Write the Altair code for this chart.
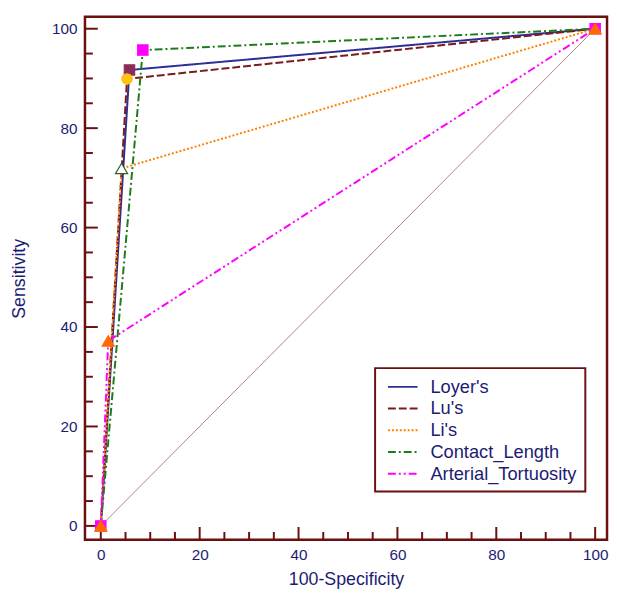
import altair as alt
import pandas as pd

# ---- data ----
series_names = ["Loyer's", "Lu's", "Li's", "Contact_Length", "Arterial_Tortuosity"]
loyer_x = [0, 5.8, 100]
loyer_y = [0, 91.7, 100]
lu_x = [0, 5.3, 100]
lu_y = [0, 89.9, 100]
li_x = [0, 4.2, 100]
li_y = [0, 71.9, 100]
contact_x = [0, 8.5, 100]
contact_y = [0, 95.7, 100]
arterial_x = [0, 1.5, 100]
arterial_y = [0, 37.2, 100]
diag_x = [0, 100]
diag_y = [0, 100]

x_major = [0, 20, 40, 60, 80, 100]
x_minor = [5, 10, 15, 25, 30, 35, 45, 50, 55, 65, 70, 75, 85, 90, 95]
y_major = [0, 20, 40, 60, 80, 100]
y_minor = [5, 10, 15, 25, 30, 35, 45, 50, 55, 65, 70, 75, 85, 90, 95]

# ---- styles ----
line_colors = ["#2E2E96", "#7A1A1A", "#FF8000", "#1E7A1E", "#FF00FF"]
dashes = [[1, 0], [8, 3], [2, 2], [8, 3, 2, 3], [8, 3, 2, 3, 2, 3]]
axis_col = "#6B0F0F"
text_col = "#1C1C73"
FONT = "Liberation Sans"
W, H = 529, 530

xs = [loyer_x, lu_x, li_x, contact_x, arterial_x]
ys = [loyer_y, lu_y, li_y, contact_y, arterial_y]
rows = []
for name, sx, sy in zip(series_names, xs, ys):
    for i, (a, b) in enumerate(zip(sx, sy)):
        rows.append({"series": name, "idx": i, "fpr": a, "sens": b})
df = pd.DataFrame(rows)
diag_df = pd.DataFrame({"fpr": diag_x, "sens": diag_y})

xscale = alt.Scale(domain=[-3.2, 102.4], nice=False, zero=False)
yscale = alt.Scale(domain=[-2.8, 102.4], nice=False, zero=False)

xaxis = alt.Axis(values=x_major, ticks=False, domain=False, grid=False, labelFlush=False,
                 labelFont=FONT, labelFontSize=15.5, labelColor=text_col, labelPadding=8,
                 title="100-Specificity", titleFont=FONT, titleFontSize=18,
                 titleFontWeight="normal", titleColor=text_col, titlePadding=8)
yaxis = alt.Axis(values=y_major, ticks=False, domain=False, grid=False, labelFlush=False,
                 labelFont=FONT, labelFontSize=15.5, labelColor=text_col, labelPadding=8,
                 title="Sensitivity", titleFont=FONT, titleFontSize=18,
                 titleFontWeight="normal", titleColor=text_col, titlePadding=23)

diag = alt.Chart(diag_df).mark_line(color="#A86060", strokeWidth=0.8).encode(
    x=alt.X("fpr:Q", scale=xscale, axis=xaxis),
    y=alt.Y("sens:Q", scale=yscale, axis=yaxis),
)

lines = alt.Chart(df).mark_line(strokeWidth=2).encode(
    x=alt.X("fpr:Q", scale=xscale),
    y=alt.Y("sens:Q", scale=yscale),
    color=alt.Color("series:N", scale=alt.Scale(domain=series_names, range=line_colors),
                    legend=alt.Legend(title=None)),
    strokeDash=alt.StrokeDash("series:N", scale=alt.Scale(domain=series_names, range=dashes),
                              legend=alt.Legend(title=None)),
    order="idx:Q",
)

def markers(name, shape, fill, stroke, size, ends=False):
    base = alt.Chart(df).transform_filter(alt.datum.series == name)
    if not ends:
        base = base.transform_filter(alt.datum.idx == 1)
    return base.mark_point(shape=shape, filled=True, fill=fill, stroke=stroke,
                           strokeWidth=1.2, size=size, opacity=1).encode(
        x=alt.X("fpr:Q", scale=xscale), y=alt.Y("sens:Q", scale=yscale))

m1 = markers("Loyer's", "square", "#8B2D5A", "#8B2D5A", 110)
m2 = markers("Lu's", "circle", "#FFC20E", "#FFC20E", 110)
m3 = markers("Li's", "triangle-up", "white", "#2F5F2F", 150)
m4 = markers("Contact_Length", "square", "#FF00FF", "#FF00FF", 110, ends=True)
m5 = markers("Arterial_Tortuosity", "triangle-up", "#FF6A00", "#FF6A00", 150, ends=True)

def tick_layer(vals, axis, length):
    d = pd.DataFrame({"v": vals})
    if axis == "x":
        return alt.Chart(d).mark_rule(color=axis_col, strokeWidth=2).encode(
            x=alt.X("v:Q", scale=xscale), y=alt.value(H), y2=alt.value(H - length))
    return alt.Chart(d).mark_rule(color=axis_col, strokeWidth=2).encode(
        y=alt.Y("v:Q", scale=yscale), x=alt.value(0), x2=alt.value(length))

ticks = [tick_layer(x_major, "x", 13), tick_layer(x_minor, "x", 8),
         tick_layer(y_major, "y", 13), tick_layer(y_minor, "y", 8)]

chart = alt.layer(diag, *ticks, lines, m1, m2, m3, m4, m5).properties(
    width=W, height=H,
    autosize=alt.AutoSizeParams(type="none"),
    padding={"left": 78, "top": 5, "right": 2, "bottom": 52},
).configure_view(
    stroke=axis_col, strokeWidth=2.5
).configure_legend(
    orient="none", legendX=294, legendY=356,
    strokeColor=axis_col, strokeWidth=2, padding=8, fillColor="white",
    symbolType="M-1.5,0H1.5", symbolSize=400, symbolStrokeWidth=2, symbolOffset=9,
    labelFont=FONT, labelFontSize=18.5, labelColor=text_col, labelOffset=17,
    labelLimit=300, rowPadding=1,
)

chart.save("out.html", embed_options={"renderer": "svg", "actions": False})
